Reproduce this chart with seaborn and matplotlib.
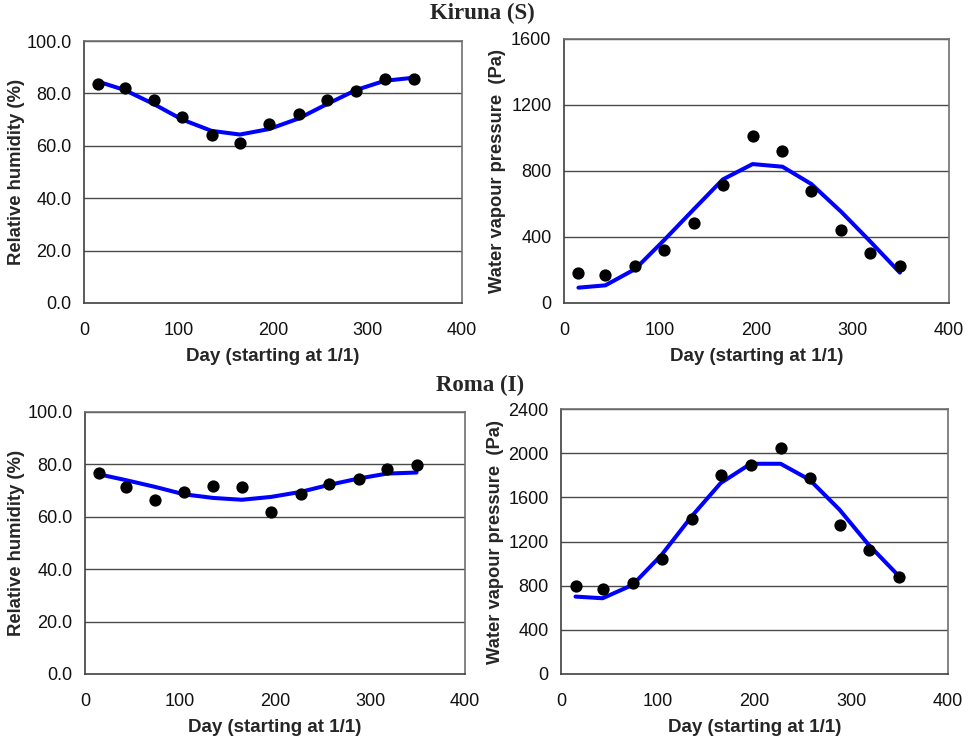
import matplotlib
matplotlib.use("Agg")
import matplotlib.pyplot as plt
import seaborn as sns
import pandas as pd

sns.set_theme(style="white")
plt.rcParams['font.family'] = ['Liberation Sans', 'DejaVu Sans']

days = [15, 43, 74, 104, 135, 165, 196, 227, 257, 288, 318, 349]

kiruna_rh_meas = [83.4, 82.2, 77.5, 71.0, 64.2, 61.0, 68.4, 72.1, 77.6, 81.1, 85.4, 85.4]
kiruna_rh_model = [84.5, 81.3, 75.9, 70.0, 65.7, 64.3, 66.4, 70.4, 75.9, 81.3, 84.8, 86.0]
kiruna_wvp_meas = [180, 172, 225, 324, 484, 713, 1014, 921, 676, 441, 300, 223]
kiruna_wvp_model = [93, 107, 206, 381, 569, 749, 842, 826, 721, 553, 374, 184]

roma_rh_meas = [76.6, 71.3, 66.6, 69.3, 71.9, 71.4, 61.9, 68.7, 72.4, 74.5, 78.1, 79.8]
roma_rh_model = [76.2, 74.0, 71.4, 68.6, 67.2, 66.5, 67.6, 69.5, 72.2, 74.6, 76.5, 76.9]
roma_wvp_meas = [795, 771, 822, 1046, 1400, 1799, 1889, 2050, 1775, 1351, 1125, 883]
roma_wvp_model = [701, 686, 807, 1079, 1427, 1729, 1904, 1904, 1759, 1487, 1170, 889]

x_ticks = [0, 100, 200, 300, 400]
rh_ticks = [0, 20, 40, 60, 80, 100]
kiruna_wvp_ticks = [0, 400, 800, 1200, 1600]
roma_wvp_ticks = [0, 400, 800, 1200, 1600, 2000, 2400]

xlabel = "Day (starting at 1/1)"
rh_label = "Relative humidity (%)"
wvp_label = "Water vapour pressure  (Pa)"

W, H = 973, 740
fig = plt.figure(figsize=(W / 100, H / 100), dpi=100)


def add_ax(left, right, top, bottom):
    return fig.add_axes([left / W, 1 - bottom / H, (right - left) / W, (bottom - top) / H])


def draw(ax, meas, model, yticks, ylabel, fmt, ylabel_x, ylabel_size):
    df = pd.DataFrame({"day": days, "meas": meas, "model": model})
    ax.grid(False)
    for t in yticks[1:]:
        ax.axhline(t, color="#4a4a4a", lw=1.0, zorder=1)
    sns.lineplot(data=df, x="day", y="model", ax=ax, color="#0000ff", lw=2.9, zorder=3)
    sns.scatterplot(data=df, x="day", y="meas", ax=ax, color="black", s=78,
                    edgecolor="black", linewidth=0, zorder=4)
    ax.set_xlim(0, 400)
    ax.set_ylim(yticks[0], yticks[-1])
    ax.set_xticks(x_ticks)
    ax.set_yticks(yticks)
    ax.set_yticklabels([fmt(v) for v in yticks])
    for s in ax.spines.values():
        s.set_color("#707070")
        s.set_linewidth(1.2)
    ax.spines["left"].set_color("#404040")
    ax.spines["bottom"].set_color("#404040")
    ax.tick_params(axis="both", which="major", direction="out", length=5, width=1,
                   color="#404040", labelsize=13, labelcolor="#111111")
    ax.tick_params(axis="x", pad=9)
    ax.tick_params(axis="y", pad=4)
    ax.set_xlabel(xlabel, fontsize=13.5, fontweight="bold", labelpad=6)
    ax.set_ylabel(ylabel, fontsize=ylabel_size, fontweight="bold")
    ax.yaxis.set_label_coords(ylabel_x, 0.5)


f1 = lambda v: f"{v:.1f}"
f0 = lambda v: f"{v:d}"

ax1 = add_ax(84, 462, 41, 303)
draw(ax1, kiruna_rh_meas, kiruna_rh_model, rh_ticks, rh_label, f1, -0.156, 13.3)
ax2 = add_ax(564, 949, 39, 303)
draw(ax2, kiruna_wvp_meas, kiruna_wvp_model, kiruna_wvp_ticks, wvp_label, f0, -0.151, 13.2)
ax3 = add_ax(85, 465, 412, 674)
draw(ax3, roma_rh_meas, roma_rh_model, rh_ticks, rh_label, f1, -0.158, 13.3)
ax4 = add_ax(561, 948, 409, 674)
draw(ax4, roma_wvp_meas, roma_wvp_model, roma_wvp_ticks, wvp_label, f0, -0.147, 13.2)

fig.text(482 / W, 1 - 13 / H, "Kiruna (S)", ha="center", va="center",
         fontsize=16.5, fontweight="bold", family=["Liberation Serif", "DejaVu Serif"])
fig.text(480 / W, 1 - 385 / H, "Roma (I)", ha="center", va="center",
         fontsize=16.5, fontweight="bold", family=["Liberation Serif", "DejaVu Serif"])

fig.savefig("out.png", dpi=100, facecolor="white")
